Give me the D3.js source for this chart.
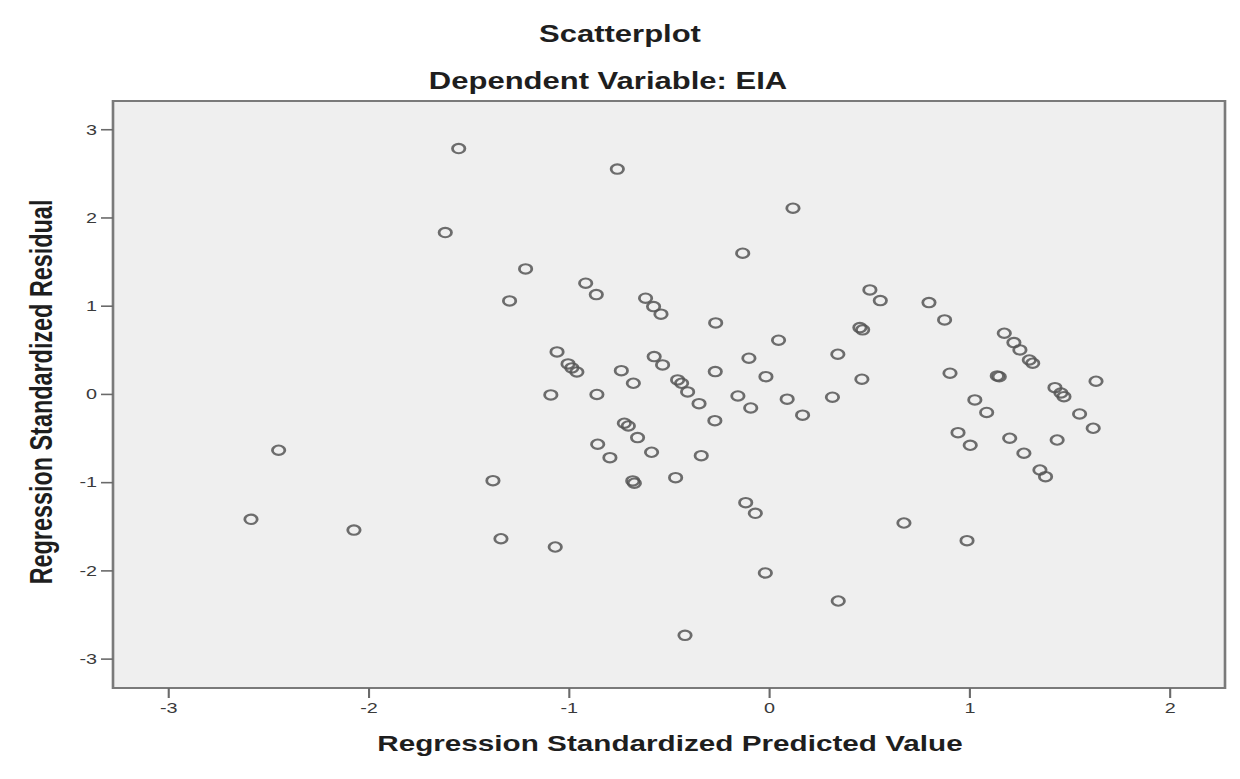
<!DOCTYPE html>
<html>
<head>
<meta charset="utf-8">
<script src="https://cdn.jsdelivr.net/npm/d3@7"></script>
<style>
  body { margin: 0; background: #fff; }
  svg { display: block; }
  text { font-family: "Liberation Sans", Arial, sans-serif; }
</style>
</head>
<body>
<script>
// Regression Standardized Predicted Value (x) for each case
var predicted = [
  -1.549, -0.757, 0.120, -1.616, -0.131, -1.215, -0.915, -0.862, -1.295, -0.616,
  -0.576, -0.539, -0.266, 0.048, 0.504, 0.556, 0.454, 0.468, 0.344, 0.464,
  -1.058, -1.003, -0.984, -0.959, -0.737, -0.677, -0.573, -0.531, -0.456, -0.436,
  -0.406, -0.349, -0.268, -0.100, -0.015, -0.155, -0.091, 0.091, 0.168, 0.317,
  -1.089, -0.859, -0.270, -0.722, -0.702, -0.656, -0.855, -0.794, -0.586, -0.338,
  -0.680, -0.672, -0.466, -0.116, -0.068, 0.674, -1.067, -0.018, 0.346, -0.419,
  -2.448, -2.586, -2.072, -1.378, -1.338, 0.799, 0.877, 1.175, 1.223, 1.253,
  1.300, 1.317, 0.904, 1.140, 1.150, 1.428, 1.458, 1.473, 1.633, 1.028,
  1.087, 1.551, 1.619, 0.944, 1.005, 1.202, 1.273, 1.439, 1.353, 1.381,
  0.989
];
// Regression Standardized Residual (y) for each case
var residual = [
  2.781, 2.548, 2.105, 1.829, 1.595, 1.417, 1.255, 1.126, 1.054, 1.085,
  0.990, 0.904, 0.805, 0.609, 1.179, 1.058, 0.752, 0.726, 0.450, 0.167,
  0.476, 0.340, 0.295, 0.249, 0.264, 0.121, 0.423, 0.329, 0.159, 0.121,
  0.023, -0.110, 0.253, 0.405, 0.196, -0.023, -0.159, -0.059, -0.241, -0.037,
  -0.011, -0.006, -0.303, -0.332, -0.363, -0.495, -0.570, -0.722, -0.661, -0.700,
  -0.986, -1.012, -0.949, -1.232, -1.353, -1.463, -1.735, -2.029, -2.347, -2.736,
  -0.638, -1.421, -1.543, -0.983, -1.641, 1.035, 0.839, 0.688, 0.582, 0.499,
  0.385, 0.348, 0.235, 0.204, 0.195, 0.071, 0.011, -0.031, 0.144, -0.068,
  -0.210, -0.227, -0.389, -0.439, -0.582, -0.502, -0.672, -0.522, -0.862, -0.938,
  -1.663
];
var xTicks = [-3, -2, -1, 0, 1, 2];
var yTicks = [-3, -2, -1, 0, 1, 2, 3];

// the source picture is widened, so draw in a horizontally stretched group
var stretch = 1.32;
var svg = d3.select("body").append("svg")
  .attr("width", 1240)
  .attr("height", 779);
var g = svg.append("g").attr("transform", "scale(" + stretch + ",1)");

var plotLeft = 113 / stretch, plotRight = 1225 / stretch;
var plotTop = 101, plotBottom = 688;

var x = d3.scaleLinear().domain([-3.275, 2.277]).range([plotLeft, plotRight]);
var y = d3.scaleLinear().domain([-3.333, 3.32]).range([plotBottom, plotTop]);

// plot background + frame
g.append("rect")
  .attr("x", plotLeft)
  .attr("y", plotTop)
  .attr("width", plotRight - plotLeft)
  .attr("height", plotBottom - plotTop)
  .attr("fill", "#efefef")
  .attr("stroke", "#7a7a7a")
  .attr("stroke-width", 2);

// axes
var xAxis = d3.axisBottom(x).tickValues(xTicks).tickSize(10).tickPadding(4)
  .tickFormat(function(d) { return String(d); });
var yAxis = d3.axisLeft(y).tickValues(yTicks).tickSize(12 / stretch).tickPadding(3)
  .tickFormat(function(d) { return String(d); });

var gx = g.append("g").attr("transform", "translate(0," + plotBottom + ")").call(xAxis);
var gy = g.append("g").attr("transform", "translate(" + plotLeft + ",0)").call(yAxis);

[gx, gy].forEach(function(ax) {
  ax.select(".domain").remove();
  ax.selectAll(".tick line").attr("stroke", "#6a6a6a").attr("stroke-width", 1.6);
  ax.selectAll(".tick text")
    .attr("fill", "#3a3a3a")
    .style("font-size", "15px")
    .style("font-family", '"Liberation Sans", Arial, sans-serif');
});

// points
g.selectAll("circle.pt")
  .data(d3.range(predicted.length))
  .enter()
  .append("circle")
    .attr("class", "pt")
    .attr("cx", function(i) { return x(predicted[i]); })
    .attr("cy", function(i) { return y(residual[i]); })
    .attr("r", 4.7)
    .attr("fill", "none")
    .attr("stroke", "#555")
    .attr("stroke-opacity", 0.85)
    .attr("stroke-width", 2.1);

// titles
g.append("text")
  .attr("x", 620 / stretch)
  .attr("y", 42)
  .attr("text-anchor", "middle")
  .attr("fill", "#1e1e1e")
  .style("font-weight", "bold")
  .style("font-size", "23.5px")
  .text("Scatterplot");

g.append("text")
  .attr("x", 608 / stretch)
  .attr("y", 89)
  .attr("text-anchor", "middle")
  .attr("fill", "#1e1e1e")
  .style("font-weight", "bold")
  .style("font-size", "23.5px")
  .text("Dependent Variable: EIA");

// axis titles
g.append("text")
  .attr("x", 670 / stretch)
  .attr("y", 751)
  .attr("text-anchor", "middle")
  .attr("fill", "#1e1e1e")
  .style("font-weight", "bold")
  .style("font-size", "22.5px")
  .text("Regression Standardized Predicted Value");

g.append("text")
  .attr("transform", "translate(" + (52 / stretch) + ",392) rotate(-90)")
  .attr("text-anchor", "middle")
  .attr("fill", "#1e1e1e")
  .style("font-weight", "bold")
  .style("font-size", "23.4px")
  .text("Regression Standardized Residual");
</script>
</body>
</html>
